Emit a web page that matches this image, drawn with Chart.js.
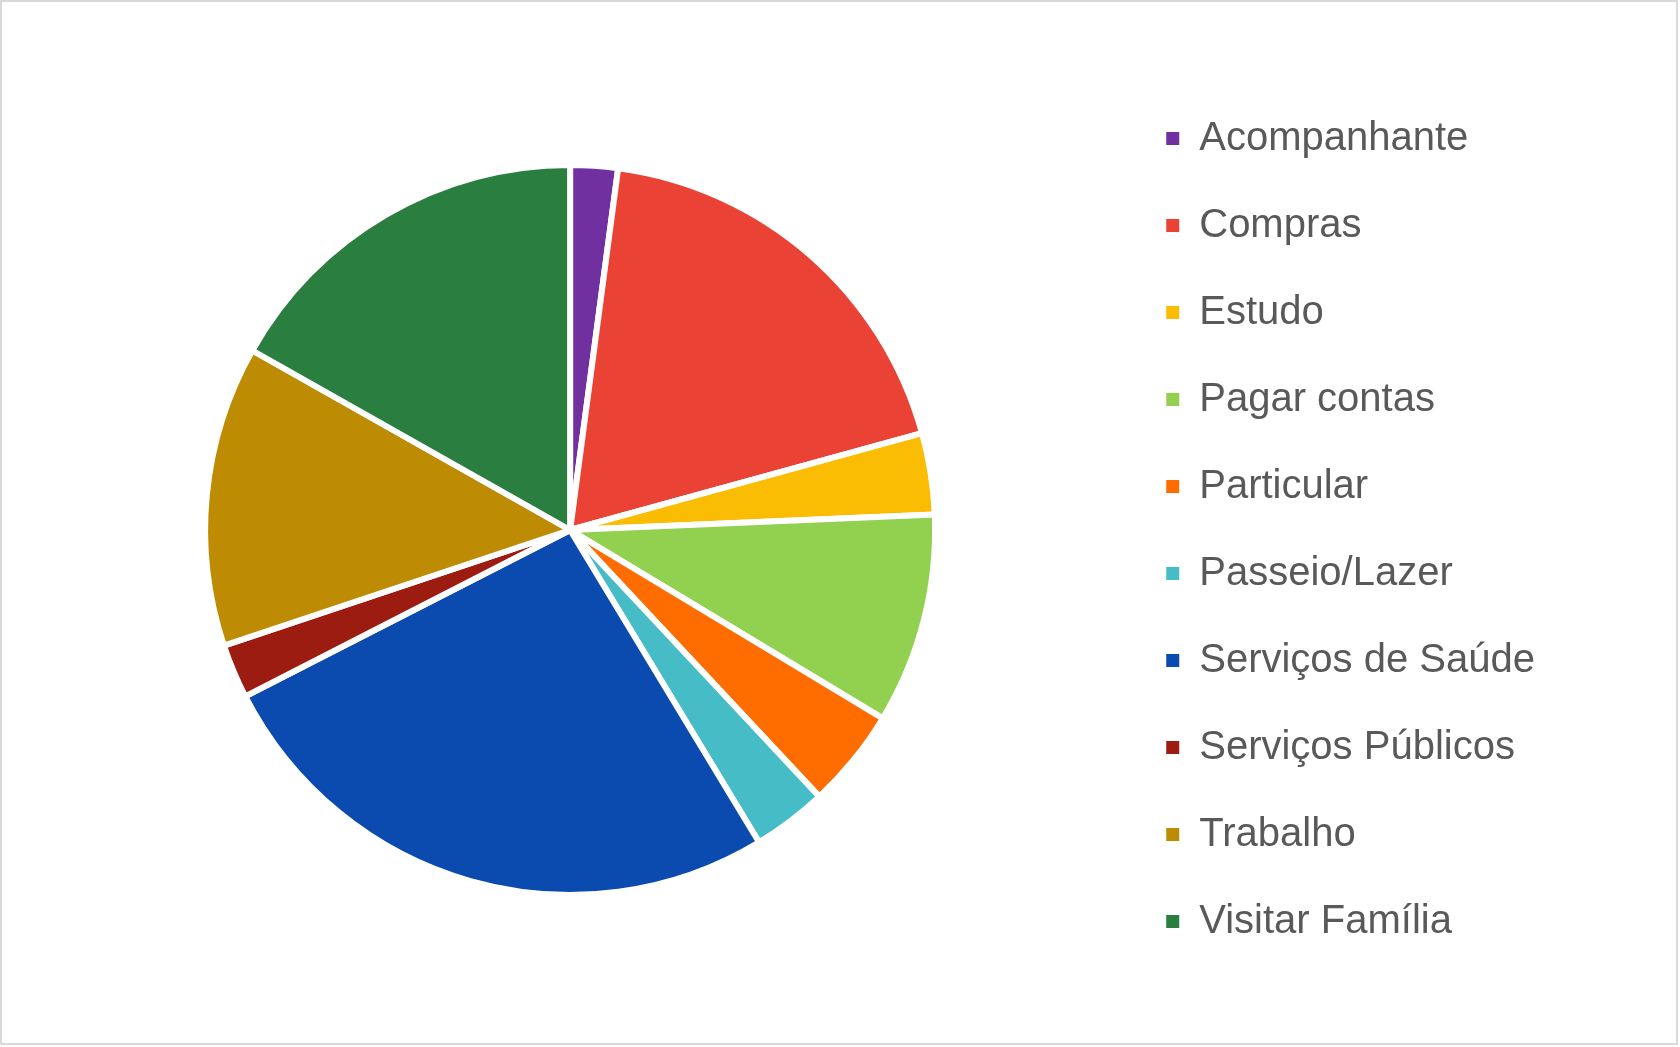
<!DOCTYPE html>
<html>
<head>
<meta charset="utf-8">
<script src="https://cdn.jsdelivr.net/npm/chart.js@4"></script>
<style>
  html, body { margin: 0; padding: 0; background: #ffffff; }
  #box {
    position: absolute; left: 0; top: 0;
    width: 1674px; height: 1041px;
    border: 2px solid #d9d9d9;
    background: #ffffff;
  }
  #chart { display: block; }
</style>
</head>
<body>
<div id="box"><canvas id="chart" width="1674" height="1041"></canvas></div>
<script>
const categories = ['Acompanhante', 'Compras', 'Estudo', 'Pagar contas', 'Particular',
  'Passeio/Lazer', 'Serviços de Saúde', 'Serviços Públicos', 'Trabalho', 'Visitar Família'];
const values = [2.1, 18.6, 3.6, 9.3, 4.4, 3.3, 26.1, 2.4, 13.3, 16.8];
const colors = ['#7030a0', '#ea4335', '#fbbc04', '#92d050', '#ff6d01',
  '#46bdc6', '#0b4bb0', '#9c1c12', '#bd8c03', '#2a7e40'];

const ctx = document.getElementById('chart');

const chart = new Chart(ctx, {
    type: 'pie',
    data: {
        labels: categories,
        datasets: [{
            data: values,
            backgroundColor: colors,
            borderColor: '#ffffff',
            borderWidth: 6,
            radius: 365
        }]
    },
    options: {
        responsive: false,
        animation: false,
        layout: {
            padding: { left: 19, right: 131, top: 15, bottom: 0 }
        },
        plugins: {
            legend: {
                position: 'right',
                labels: {
                    boxWidth: 13,
                    boxHeight: 13,
                    padding: 47,
                    color: '#595959',
                    font: { family: '"Liberation Sans", Arial, sans-serif', size: 40 },
                    // no white border on the legend squares
                    generateLabels: function(chart) {
                        const items = Chart.overrides.pie.plugins.legend.labels.generateLabels(chart);
                        items.forEach(function(item) { item.lineWidth = 0; });
                        return items;
                    }
                }
            },
            tooltip: { enabled: false }
        }
    }
});
</script>
</body>
</html>
